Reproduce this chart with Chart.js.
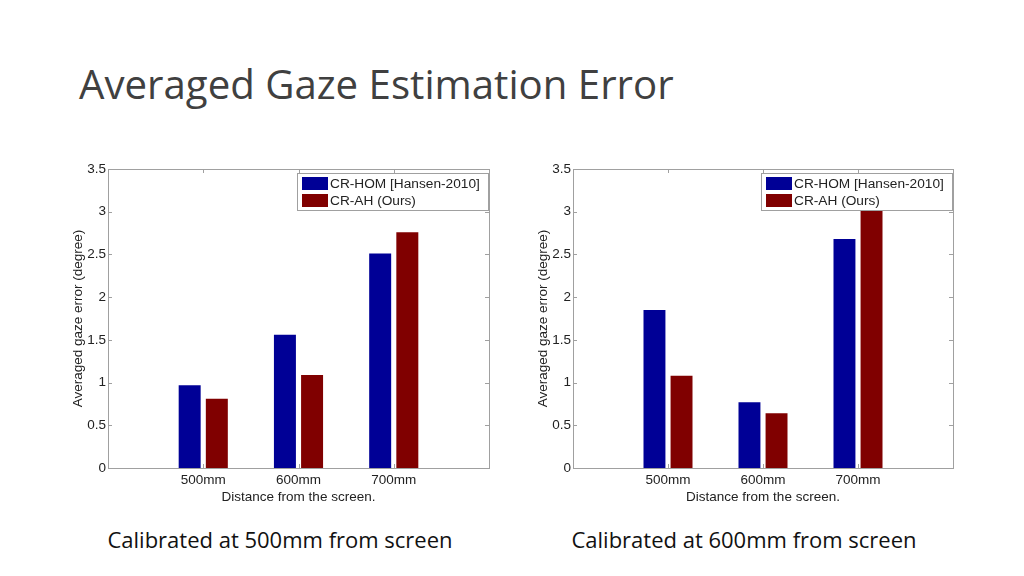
<!DOCTYPE html>
<html>
<head>
<meta charset="utf-8">
<script src="https://cdn.jsdelivr.net/npm/chart.js@4.4.1/dist/chart.umd.min.js"></script>
<style>
  body { margin: 0; width: 1024px; height: 576px; background: #fff; position: relative; overflow: hidden; }
  .title { position: absolute; left: 79px; top: 56px; font-family: "Open Sans", sans-serif; font-size: 40.2px; color: #404040; white-space: nowrap; }
  .cap { position: absolute; top: 524px; width: 460px; text-align: center; font-family: "Open Sans", sans-serif; font-size: 22px; color: #111; }
  .box { position: absolute; top: 155px; width: 440px; height: 350px; }
</style>
</head>
<body>
<div class="title">Averaged Gaze Estimation Error</div>
<div class="box" style="left:60px"><canvas id="chartLeft"></canvas></div>
<div class="box" style="left:525px"><canvas id="chartRight"></canvas></div>
<div class="cap" style="left:50px">Calibrated at 500mm from screen</div>
<div class="cap" style="left:514px">Calibrated at 600mm from screen</div>
<script>
// blank slots at both ends so the bars sit at 1, 2, 3 on a 0..4 axis
const distances = ["", "500mm", "600mm", "700mm", ""];
const seriesNames = ["CR-HOM [Hansen-2010]", "CR-AH (Ours)"];
const yTicks = [0, 0.5, 1, 1.5, 2, 2.5, 3, 3.5];

const leftHom = [null, 0.97, 1.56, 2.51, null];
const leftAh = [null, 0.81, 1.09, 2.76, null];
const rightHom = [null, 1.85, 0.77, 2.68, null];
const rightAh = [null, 1.08, 0.64, 3.02, null];

const blue = "#000096";
const red = "#800000";
const axisFont = { family: "Liberation Sans", size: 13.5 };

// matlab style box with inward ticks, plus legend in the top right corner
const frame = {
  id: "frame",
  afterDatasetsDraw(chart) {
    const c = chart.ctx, a = chart.chartArea;
    const x = chart.scales.x, y = chart.scales.y;
    c.save();
    c.strokeStyle = "#a0a0a0";
    c.lineWidth = 1;
    c.strokeRect(a.left + 0.5, a.top + 0.5, a.right - a.left, a.bottom - a.top);
    c.beginPath();
    yTicks.forEach(v => {
      const py = Math.round(y.getPixelForValue(v)) + 0.5;
      c.moveTo(a.left, py); c.lineTo(a.left + 4, py);
      c.moveTo(a.right, py); c.lineTo(a.right - 4, py);
    });
    [1, 2, 3].forEach(i => {
      const px = Math.round(x.getPixelForValue(i)) + 0.5;
      c.moveTo(px, a.bottom); c.lineTo(px, a.bottom - 4);
      c.moveTo(px, a.top); c.lineTo(px, a.top + 4);
    });
    c.stroke();

    // legend
    const bw = 191, bh = 37;
    const bx = a.right - bw - 1, by = a.top + 4;
    c.fillStyle = "#fff";
    c.fillRect(bx, by, bw, bh);
    c.strokeStyle = "#a0a0a0";
    c.strokeRect(bx + 0.5, by + 0.5, bw, bh);
    c.font = "13.7px 'Liberation Sans', Arial, sans-serif";
    c.textBaseline = "middle";
    chart.data.datasets.forEach((ds, i) => {
      const ry = by + 4 + i * 17;
      c.fillStyle = ds.backgroundColor;
      c.fillRect(bx + 5, ry, 26, 13);
      c.fillStyle = "#222";
      c.fillText(ds.label, bx + 33, ry + 7);
    });
    c.restore();
  }
};

function makeChart(id, hom, ah, rightPad) {
  return new Chart(document.getElementById(id), {
    type: "bar",
    data: {
      labels: distances,
      datasets: [
        { label: seriesNames[0], data: hom, backgroundColor: blue },
        { label: seriesNames[1], data: ah, backgroundColor: red }
      ]
    },
    options: {
      responsive: true,
      maintainAspectRatio: false,
      animation: false,
      categoryPercentage: 0.57,
      barPercentage: 0.81,
      layout: { padding: { top: 14, right: rightPad, left: 10, bottom: 0 } },
      plugins: { legend: { display: false }, tooltip: { enabled: false } },
      scales: {
        x: {
          offset: false,
          grid: { display: false, offset: false, drawTicks: false, tickLength: 0 },
          border: { display: false },
          ticks: { color: "#222", font: axisFont, padding: 4, maxRotation: 0, autoSkip: false },
          title: { display: true, text: "Distance from the screen.", color: "#222", font: axisFont, padding: { top: -1, bottom: 0 } },
          afterFit: s => { s.height = 37; }
        },
        y: {
          min: 0,
          max: 3.5,
          grid: { display: false, drawTicks: false, tickLength: 0 },
          border: { display: false },
          ticks: { stepSize: 0.5, color: "#222", font: axisFont, padding: 2, callback: v => String(v) },
          title: { display: true, text: "Averaged gaze error (degree)", color: "#222", font: axisFont, padding: 0 },
          afterFit: s => { s.width = 38; }
        }
      }
    },
    plugins: [frame]
  });
}

makeChart("chartLeft", leftHom, leftAh, 11);
makeChart("chartRight", rightHom, rightAh, 12);
</script>
</body>
</html>
